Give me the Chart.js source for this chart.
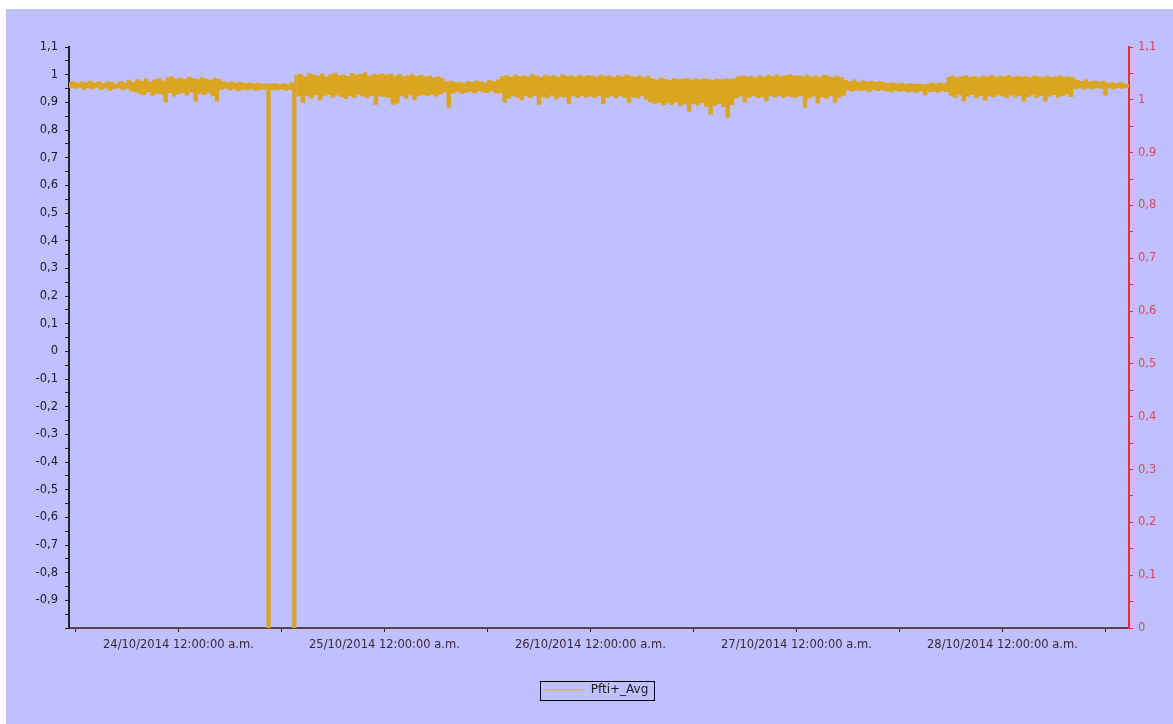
<!DOCTYPE html>
<html>
<head>
<meta charset="utf-8">
<title>Pfti+_Avg</title>
<script src="https://cdn.jsdelivr.net/npm/chart.js@4/dist/chart.umd.min.js"></script>
<style>
  html, body { margin: 0; padding: 0; background: #ffffff; }
  #wrap { position: absolute; left: 6px; top: 9px; width: 1167px; height: 715px; background: rgb(192,192,255); }
  canvas { display: block; }
</style>
</head>
<body>
<div id="wrap"><canvas id="chart" width="1167" height="715"></canvas></div>
<script>
// Pfti+_Avg power factor, one reading every 15 minutes.
// Time is counted in hours from 24/10/2014 00:00; the first reading is 23/10/2014 11:15.
const firstSampleHour = -12.75;
const sampleStepHours = 0.25;

// 23/10/2014 11:15 - 23:45
const pf23 = [
  0.969,0.956,0.972,0.953,0.966,0.958,0.971,0.950,0.968,0.955,
  0.974,0.952,0.967,0.957,0.972,0.949,0.965,0.954,0.971,0.946,
  0.969,0.952,0.964,0.955,0.973,0.948,0.967,0.953,0.976,0.944,
  0.970,0.940,0.979,0.935,0.974,0.930,0.982,0.941,0.971,0.928,
  0.978,0.936,0.983,0.933,0.975,0.904,0.986,0.938,0.989,0.925,
  0.981
];
// 24/10/2014 00:00 - 23:45 (the 10:30 and 13:30 readings fell to the bottom of the range)
const pf24 = [
  0.934,0.985,0.938,0.980,0.929,0.988,0.941,0.983,0.907,0.979,
  0.935,0.986,0.931,0.981,0.939,0.977,0.926,0.984,0.907,0.980,
  0.950,0.972,0.953,0.968,0.947,0.970,0.952,0.966,0.944,0.969,
  0.951,0.965,0.949,0.967,0.952,0.964,0.946,0.966,0.950,0.963,
  0.951,0.964,-1,0.963,0.950,0.965,0.948,0.962,0.951,0.964,
  0.947,0.961,0.950,0.968,-1,0.995,0.925,0.998,0.903,0.990,
  0.928,1.001,0.918,0.996,0.930,0.993,0.912,0.999,0.926,0.989,
  0.931,0.997,0.922,1.003,0.929,0.994,0.924,0.996,0.916,0.991,
  0.927,1.002,0.921,0.995,0.932,0.998,0.925,1.004,0.919,0.992,
  0.928,0.999,0.896,0.996,0.926,1.000
];
// 25/10/2014 00:00 - 23:45
const pf25 = [
  0.924,0.995,0.921,0.999,0.896,0.992,0.900,0.997,0.927,0.990,
  0.918,0.994,0.929,0.998,0.913,0.991,0.926,0.995,0.930,0.989,
  0.928,0.992,0.931,0.986,0.925,0.990,0.933,0.984,0.940,0.972,
  0.885,0.974,0.936,0.968,0.942,0.970,0.935,0.966,0.939,0.973,
  0.943,0.969,0.937,0.975,0.945,0.971,0.941,0.967,0.938,0.976,
  0.944,0.972,0.936,0.978,0.937,0.990,0.904,0.994,0.918,0.988,
  0.927,0.996,0.921,0.991,0.912,0.993,0.926,0.989,0.920,0.997,
  0.928,0.992,0.896,0.987,0.923,0.995,0.919,0.990,0.929,0.994,
  0.915,0.988,0.924,0.996,0.922,0.991,0.898,0.993,0.926,0.989,
  0.920,0.995,0.927,0.990,0.921,0.994
];
// 26/10/2014 00:00 - 23:45
const pf26 = [
  0.925,0.992,0.920,0.988,0.928,0.995,0.898,0.990,0.922,0.993,
  0.926,0.987,0.919,0.994,0.927,0.989,0.921,0.996,0.903,0.991,
  0.924,0.988,0.918,0.993,0.926,0.986,0.915,0.992,0.905,0.982,
  0.898,0.978,0.902,0.985,0.893,0.980,0.900,0.976,0.895,0.983,
  0.904,0.979,0.890,0.981,0.897,0.984,0.870,0.977,0.899,0.982,
  0.893,0.979,0.901,0.983,0.888,0.980,0.860,0.976,0.892,0.981,
  0.898,0.978,0.887,0.983,0.849,0.980,0.895,0.983,0.918,0.990,
  0.925,0.994,0.904,0.988,0.921,0.992,0.927,0.986,0.919,0.993,
  0.924,0.989,0.907,0.995,0.926,0.991,0.922,0.996,0.928,0.990,
  0.920,0.994,0.925,0.997,0.923,0.992
];
// 27/10/2014 00:00 - 23:45
const pf27 = [
  0.921,0.994,0.927,0.990,0.885,0.996,0.918,0.989,0.925,0.993,
  0.900,0.988,0.923,0.995,0.917,0.991,0.926,0.987,0.904,0.992,
  0.920,0.986,0.928,0.976,0.946,0.972,0.943,0.978,0.948,0.970,
  0.944,0.975,0.947,0.971,0.942,0.974,0.949,0.969,0.945,0.973,
  0.948,0.967,0.944,0.965,0.941,0.968,0.946,0.964,0.942,0.966,
  0.945,0.963,0.940,0.965,0.943,0.962,0.939,0.964,0.944,0.961,
  0.929,0.963,0.941,0.966,0.943,0.964,0.940,0.967,0.945,0.965,
  0.942,0.988,0.928,0.992,0.921,0.986,0.930,0.990,0.907,0.994,
  0.925,0.987,0.931,0.991,0.919,0.985,0.927,0.993,0.910,0.989,
  0.926,0.995,0.923,0.988,0.929,0.992
];
// 28/10/2014 00:00 - 14:45
const pf28 = [
  0.926,0.990,0.920,0.994,0.929,0.987,0.923,0.992,0.927,0.988,
  0.907,0.991,0.924,0.986,0.930,0.993,0.921,0.989,0.928,0.985,
  0.907,0.992,0.925,0.987,0.931,0.990,0.922,0.994,0.927,0.986,
  0.933,0.989,0.924,0.985,0.952,0.976,0.955,0.973,0.950,0.978,
  0.954,0.972,0.951,0.975,0.956,0.971,0.953,0.974,0.929,0.966,
  0.955,0.968,0.952,0.965,0.956,0.969,0.953,0.964,0.957,0.962
];

// Midnight labels on the time axis, one per day starting 24/10/2014
const dayLabels = [
  '24/10/2014 12:00:00 a.m.',
  '25/10/2014 12:00:00 a.m.',
  '26/10/2014 12:00:00 a.m.',
  '27/10/2014 12:00:00 a.m.',
  '28/10/2014 12:00:00 a.m.'
];
const seriesName = 'Pfti+_Avg';

const readings = [].concat(pf23, pf24, pf25, pf26, pf27, pf28);
const points = readings.map((v, i) => ({ x: firstSampleHour + i * sampleStepHours, y: v }));
const lastHour = firstSampleHour + (readings.length - 1) * sampleStepHours;

const axisFont = { family: 'DejaVu Sans', size: 11.5 };
const decimalComma = v => String(Math.round(v * 10) / 10).replace('.', ',');

// value axis ticks every 0.05, labelled every 0.1
function halfStepTicks(scale, fromHundredths, toHundredths) {
  const ticks = [];
  for (let h = fromHundredths; h <= toHundredths; h += 5) ticks.push({ value: h / 100 });
  scale.ticks = ticks;
}
function labelTenths(value, skipValue) {
  const h = Math.round(value * 100);
  if (h % 10 !== 0 || value === skipValue) return '';
  return decimalComma(value);
}

// thin frame around the legend entry
const legendFrame = {
  id: 'legendFrame',
  afterDraw(chart) {
    const lg = chart.legend;
    if (!lg || !lg.legendHitBoxes || !lg.legendHitBoxes.length) return;
    const b = lg.legendHitBoxes[0];
    const ctx = chart.ctx;
    const cy = b.top + b.height / 2;
    ctx.save();
    ctx.strokeStyle = '#000000';
    ctx.lineWidth = 1;
    ctx.strokeRect(Math.round(b.left - 5) + 0.5, Math.round(cy - 9.5) + 0.5, Math.round(b.width + 10), 19);
    ctx.restore();
  }
};

// readings are drawn as held steps, wide enough for neighbouring steps to touch;
// the drops to the bottom of the range are drawn slightly thinner
const isDrop = c => c.p0.parsed.y < 0 || c.p1.parsed.y < 0;

new Chart(document.getElementById('chart'), {
  type: 'line',
  data: {
    datasets: [{
      label: seriesName,
      data: points,
      borderColor: '#DAA520',
      backgroundColor: '#DAA520',
      borderWidth: 1.2,
      borderJoinStyle: 'miter',
      borderCapStyle: 'butt',
      pointRadius: 0,
      stepped: 'middle',
      segment: { borderWidth: c => (isDrop(c) ? 2.2 : 2.4) },
      xAxisID: 'x',
      yAxisID: 'y'
    }]
  },
  options: {
    responsive: false,
    animation: false,
    devicePixelRatio: 1,
    events: [],
    layout: { padding: { top: 38, bottom: 18, left: 14, right: 0 } },
    plugins: {
      tooltip: { enabled: false },
      legend: {
        position: 'bottom',
        labels: {
          usePointStyle: true,
          pointStyle: 'line',
          pointStyleWidth: 40,
          boxWidth: 40,
          color: '#1a1a1a',
          font: { family: 'DejaVu Sans', size: 12 },
          padding: 10
        }
      }
    },
    scales: {
      x: {
        type: 'linear',
        position: 'bottom',
        min: firstSampleHour,
        max: lastHour,
        afterBuildTicks(scale) {
          const ticks = [];
          for (let h = Math.ceil(firstSampleHour / 12) * 12; h <= lastHour; h += 12) ticks.push({ value: h });
          scale.ticks = ticks;
        },
        afterFit(scale) { scale.height = 46; },
        grid: { drawOnChartArea: false, drawTicks: true, tickLength: 4, color: '#2a1a22', lineWidth: 1 },
        border: { display: true, color: '#5b3f4a', width: 2 },
        ticks: {
          autoSkip: false,
          maxRotation: 0,
          padding: 6,
          color: '#3a2830',
          font: axisFont,
          callback(v) { return v % 24 === 0 ? (dayLabels[v / 24] || '') : ''; }
        }
      },
      y: {
        type: 'linear',
        position: 'left',
        min: -1,
        max: 1.1,
        afterBuildTicks(scale) { halfStepTicks(scale, -100, 110); },
        afterFit(scale) { scale.width = 49; },
        grid: { drawOnChartArea: false, drawTicks: true, tickLength: 4, color: '#1a1a1a', lineWidth: 1 },
        border: { display: true, color: '#222230', width: 2 },
        ticks: {
          autoSkip: false,
          padding: 7,
          color: '#1a1a28',
          font: axisFont,
          callback(v) { return labelTenths(v, -1); }
        }
      },
      y1: {
        type: 'linear',
        position: 'right',
        min: 0,
        max: 1.1,
        afterBuildTicks(scale) { halfStepTicks(scale, 0, 110); },
        afterFit(scale) { scale.width = 44; },
        grid: { drawOnChartArea: false, drawTicks: true, tickLength: 4, color: '#ee2840', lineWidth: 1 },
        border: { display: true, color: '#ee2840', width: 2 },
        ticks: {
          autoSkip: false,
          padding: 5,
          color: '#e8405e',
          font: axisFont,
          callback(v) { return labelTenths(v, null); }
        }
      }
    }
  },
  plugins: [legendFrame]
});
</script>
</body>
</html>
